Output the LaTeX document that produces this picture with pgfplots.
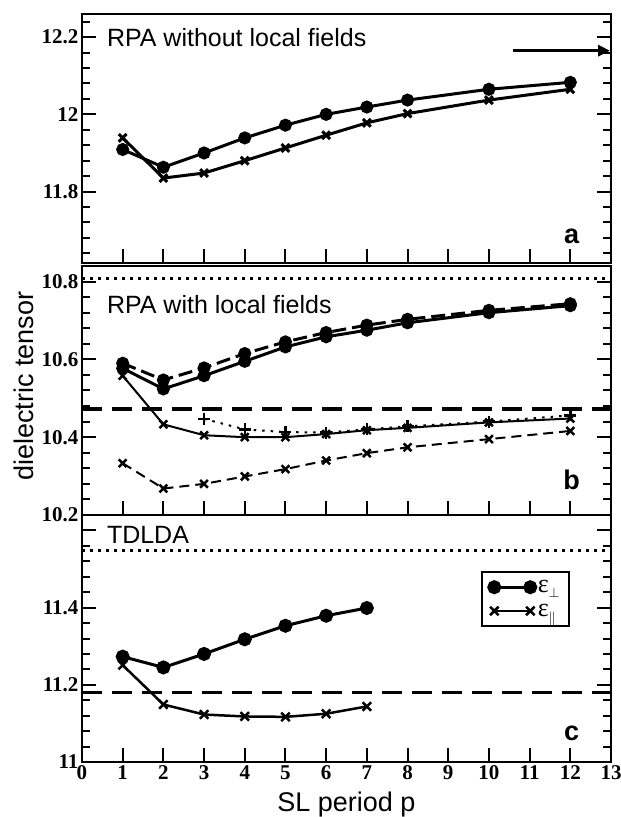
\documentclass[border=0pt]{standalone}
\usepackage{graphicx}
\usepackage{fontspec}
\setmainfont{Liberation Sans}
\newfontfamily\serifnum{Liberation Serif}
\usepackage{pgfplots}
\pgfplotsset{compat=1.18}
\usetikzlibrary{arrows.meta}

\pgfplotsset{
 panel/.style={
  scale only axis, width=529pt, xmin=0, xmax=13, xtick={0,...,13},
  xtick pos=left, ytick pos=both, tick align=inside,
  major tick length=14pt, minor tick length=8pt,
  axis line style={line width=2.5pt},
  tick style={black, line width=2pt},
  tick label style={font=\serifnum\bfseries\fontsize{21}{21}\selectfont},
  /pgf/number format/assume math mode=true,
  clip=false,
 },
 circ/.style={black, line width=3pt, mark=*, mark size=5pt, mark options={solid}},
 thickx/.style={black, line width=3pt, mark=x, mark size=5.5pt, mark options={solid}},
 thinx/.style={black, line width=2pt, mark=x, mark size=5.5pt, mark options={solid, line width=2.5pt}},
 refdash/.style={black, line width=3.5pt, dash pattern=on 20pt off 10pt, forget plot},
 refdot/.style={black, line width=3pt, dash pattern=on 3pt off 5pt, forget plot},
}

\begin{document}
\begin{tikzpicture}
\path[use as bounding box] (-82pt,-55pt) rectangle (539pt,762pt);

% ---------------- panel c ----------------
\begin{axis}[panel, at={(0pt,0pt)}, anchor=south west, height=247pt,
  ymin=11, ymax=11.64,
  ytick={11,11.2,11.4},
  extra y ticks={11.6}, extra y tick labels={},
  minor ytick={11.04,11.08,11.12,11.16,11.24,11.28,11.32,11.36,11.44,11.48,11.52,11.56},
  xlabel={SL period p},
  xlabel style={font=\fontsize{27}{27}\selectfont, at={(axis description cs:0.5,-0.2)}, anchor=base},
  legend style={at={(axis cs:9.8,11.494)}, anchor=north west, draw=black, line width=2pt,
    font=\serifnum, inner xsep=7pt, inner ysep=6pt, row sep=6pt},
  legend cell align=left,
  legend image code/.code={\draw[#1] plot coordinates {(0pt,0pt) (36pt,0pt)};},
]
\addplot[refdot] coordinates {(0,11.548) (13,11.548)};
\addplot[refdash] coordinates {(0,11.18) (13,11.18)};
\addplot[circ, mark size=5.5pt] coordinates {(1,11.273) (2,11.245) (3,11.28) (4,11.318) (5,11.353) (6,11.379) (7,11.399)};
\addlegendentry{\scalebox{2.6}{ε}\raisebox{-5pt}{\scalebox{1.4}{$\perp$}}}
\addplot[black, line width=2.5pt, mark=x, mark size=6pt] coordinates {(1,11.251) (2,11.149) (3,11.123) (4,11.118) (5,11.117) (6,11.125) (7,11.144)};
\addlegendentry{\scalebox{2.6}{ε}\raisebox{-6pt}{\scalebox{1.4}{$\parallel$}}}
\node[anchor=base west, inner sep=0pt, font=\fontsize{25}{25}\selectfont] at (axis cs:0.61,11.565) {TDLDA};
\node[anchor=base, inner sep=0pt, font=\bfseries\fontsize{27}{27}\selectfont] at (axis cs:12.03,11.055) {c};
\end{axis}

% ---------------- panel b ----------------
\begin{axis}[panel, at={(0pt,247pt)}, anchor=south west, height=249pt,
  ymin=10.2, ymax=10.84, xticklabels={},
  ytick={10.2,10.4,10.6,10.8},
  minor ytick={10.24,10.28,10.32,10.36,10.44,10.48,10.52,10.56,10.64,10.68,10.72,10.76},
  ylabel={dielectric tensor},
  ylabel style={font=\fontsize{27}{27}\selectfont, at={(axis description cs:-0.0925,0.518)}, anchor=base},
]
\addplot[refdot] coordinates {(0,10.808) (13,10.808)};
\addplot[refdash] coordinates {(0,10.473) (13,10.473)};
\addplot[circ, dash pattern=on 14pt off 6pt] coordinates {(1,10.59) (2,10.547) (3,10.578) (4,10.615) (5,10.645) (6,10.669) (7,10.688) (8,10.703) (10,10.726) (12,10.743)};
\addplot[circ] coordinates {(1,10.577) (2,10.524) (3,10.558) (4,10.595) (5,10.632) (6,10.658) (7,10.675) (8,10.694) (10,10.72) (12,10.738)};
\addplot[thinx] coordinates {(1,10.558) (2,10.433) (3,10.405) (4,10.40) (5,10.40) (6,10.408) (7,10.418) (8,10.424) (10,10.438) (12,10.448)};
\addplot[black, line width=2pt, dash pattern=on 2.5pt off 6pt, mark=+, mark size=6pt, mark options={solid, line width=2.5pt}] coordinates {(3,10.447) (4,10.42) (5,10.413) (6,10.412) (7,10.42) (8,10.428) (10,10.44) (12,10.456)};
\addplot[thinx, dash pattern=on 10pt off 6pt] coordinates {(1,10.333) (2,10.268) (3,10.28) (4,10.299) (5,10.318) (6,10.34) (7,10.359) (8,10.374) (10,10.395) (12,10.416)};
\node[anchor=base west, inner sep=0pt, font=\fontsize{25}{25}\selectfont] at (axis cs:0.61,10.717) {RPA with local fields};
\node[anchor=base, inner sep=0pt, font=\bfseries\fontsize{27}{27}\selectfont] at (axis cs:12.03,10.265) {b};
\end{axis}

% ---------------- panel a ----------------
\begin{axis}[panel, at={(0pt,499pt)}, anchor=south west, height=249pt,
  ymin=11.615, ymax=12.26, xticklabels={},
  ytick={11.8,12,12.2},
  minor ytick={11.64,11.68,11.72,11.76,11.84,11.88,11.92,11.96,12.04,12.08,12.12,12.16,12.24},
]
\addplot[black, line width=3.5pt, -{Triangle[length=12pt,width=11pt]}, forget plot, shorten >=1pt] coordinates {(10.59,12.165) (13,12.165)};
\addplot[circ] coordinates {(1,11.909) (2,11.863) (3,11.90) (4,11.939) (5,11.972) (6,12.0) (7,12.019) (8,12.037) (10,12.065) (12,12.083)};
\addplot[thickx] coordinates {(1,11.939) (2,11.835) (3,11.848) (4,11.88) (5,11.913) (6,11.946) (7,11.978) (8,12.002) (10,12.037) (12,12.065)};
\node[anchor=base west, inner sep=0pt, font=\fontsize{25}{25}\selectfont] at (axis cs:0.61,12.177) {RPA without local fields};
\node[anchor=base, inner sep=0pt, font=\bfseries\fontsize{27}{27}\selectfont] at (axis cs:12.03,11.665) {a};
\end{axis}
\end{tikzpicture}
\end{document}
